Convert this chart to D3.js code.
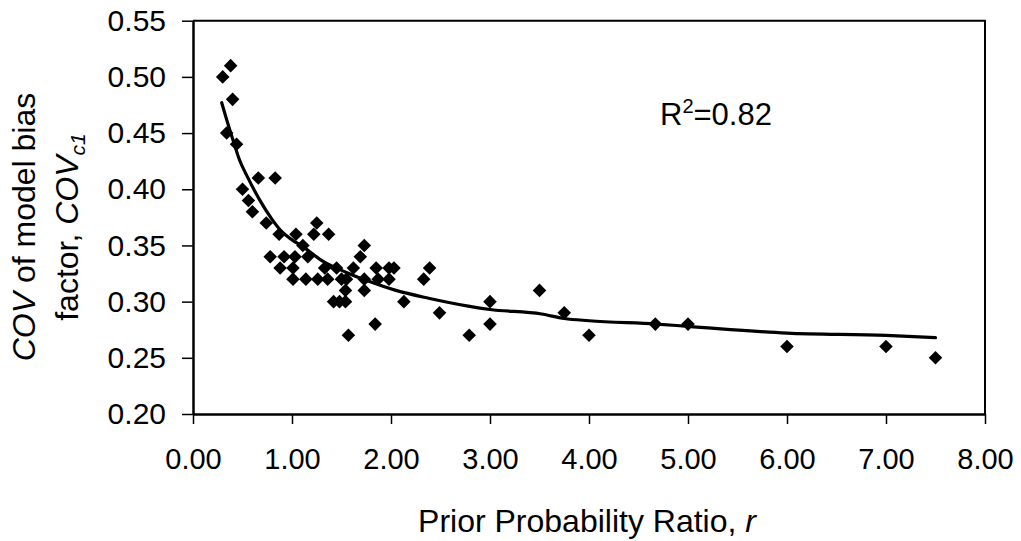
<!DOCTYPE html>
<html>
<head>
<meta charset="utf-8">
<script src="https://cdn.jsdelivr.net/npm/d3@7"></script>
<style>
  html, body { margin: 0; padding: 0; background: #fff; }
  svg { display: block; font-family: Arial, "Liberation Sans", sans-serif; }
  .tick text { fill: #000; }
</style>
</head>
<body>
<div id="container"></div>
<script>
// observed points: prior probability ratio r and COV of model bias
const ratioR = [
  0.30, 0.38, 0.40, 0.34, 0.44, 0.50, 0.56, 0.60, 0.66, 0.83,
  0.74, 0.87, 1.04, 1.11, 1.25, 1.22, 1.37, 0.78, 0.92, 1.03,
  1.16, 0.88, 1.01, 1.33, 1.45, 1.01, 1.14, 1.26, 1.36, 1.50,
  1.55, 1.54, 1.73, 1.69, 1.62, 1.73, 1.73, 1.85, 1.98, 2.03,
  1.87, 1.98, 2.39, 2.33, 2.13, 2.49, 1.42, 1.48, 1.54, 1.84,
  1.57, 2.79, 3.00, 3.00, 3.50, 3.75, 4.00, 4.67, 5.00, 6.00,
  7.00, 7.50
];
const covValues = [
  0.50, 0.51, 0.48, 0.45, 0.44, 0.40, 0.39, 0.38, 0.41, 0.41,
  0.37, 0.36, 0.36, 0.35, 0.37, 0.36, 0.36, 0.34, 0.34, 0.34,
  0.34, 0.33, 0.33, 0.33, 0.33, 0.32, 0.32, 0.32, 0.32, 0.32,
  0.32, 0.31, 0.35, 0.34, 0.33, 0.32, 0.31, 0.33, 0.33, 0.33,
  0.32, 0.32, 0.33, 0.32, 0.30, 0.29, 0.30, 0.30, 0.30, 0.28,
  0.27, 0.27, 0.30, 0.28, 0.31, 0.29, 0.27, 0.28, 0.28, 0.26,
  0.26, 0.25
];

// fitted curve
const fitR   = [0.29, 0.34, 0.40, 0.47, 0.55, 0.67, 0.80, 0.90, 1.00, 1.11, 1.31, 1.55, 1.75, 2.05, 2.38, 2.78, 3.00, 3.52, 3.75, 4.00, 4.68, 5.00, 6.00, 7.00, 7.50];
const fitCov = [0.477, 0.462, 0.445, 0.426, 0.411, 0.391, 0.373, 0.362, 0.355, 0.349, 0.336, 0.326, 0.319, 0.310, 0.303, 0.296, 0.293, 0.289, 0.285, 0.283, 0.280, 0.278, 0.272, 0.270, 0.268];

const xTicks = [0, 1, 2, 3, 4, 5, 6, 7, 8];
const yTicks = [0.20, 0.25, 0.30, 0.35, 0.40, 0.45, 0.50, 0.55];
const rSquared = '0.82';

const width = 1021;
const height = 541;
const plotLeft = 193, plotRight = 985, plotTop = 20.7, plotBottom = 414;

const svg = d3.select('#container').append('svg')
  .attr('width', width)
  .attr('height', height);

const x = d3.scaleLinear().domain([0, 8]).range([plotLeft, plotRight]);
const y = d3.scaleLinear().domain([0.2, 0.55]).range([plotBottom, plotTop]);

// --- Frame (top and right) ---
svg.append('path')
  .attr('d', `M${plotLeft},${plotTop}H${plotRight}V${plotBottom}`)
  .attr('fill', 'none')
  .attr('stroke', '#000')
  .attr('stroke-width', 2);

// --- Axes ---
const xAxis = svg.append('g')
  .attr('transform', `translate(0,${plotBottom})`)
  .call(d3.axisBottom(x).tickValues(xTicks).tickFormat(d3.format('.2f'))
    .tickSizeInner(10).tickSizeOuter(0).tickPadding(24));
xAxis.select('.domain').attr('stroke-width', 2.5);
xAxis.selectAll('.tick line').attr('stroke-width', 1.5);
xAxis.selectAll('.tick text').attr('font-size', 29).attr('font-family', 'Arial, "Liberation Sans", sans-serif');

const yAxis = svg.append('g')
  .attr('transform', `translate(${plotLeft},0)`)
  .call(d3.axisLeft(y).tickValues(yTicks).tickFormat(d3.format('.2f'))
    .tickSizeInner(11).tickSizeOuter(0).tickPadding(16));
yAxis.select('.domain').attr('stroke-width', 2.5);
yAxis.selectAll('.tick line').attr('stroke-width', 1.5);
yAxis.selectAll('.tick text').attr('font-size', 30).attr('font-family', 'Arial, "Liberation Sans", sans-serif');

// --- Points (diamonds) ---
const diamond = d3.symbol().type(d3.symbolSquare).size(92);
svg.append('g')
  .selectAll('path')
  .data(ratioR.map((r, i) => ({ r, v: covValues[i] })))
  .join('path')
  .attr('d', diamond)
  .attr('transform', (d) => `translate(${x(d.r)},${y(d.v)}) rotate(45)`)
  .attr('fill', '#000');

// --- Fitted curve ---
const line = d3.line()
  .x((d) => x(d[0]))
  .y((d) => y(d[1]))
  .curve(d3.curveMonotoneX);
svg.append('path')
  .datum(fitR.map((r, i) => [r, fitCov[i]]))
  .attr('d', line)
  .attr('fill', 'none')
  .attr('stroke', '#000')
  .attr('stroke-width', 3.2)
  .attr('stroke-linecap', 'round');

// --- R² label ---
const rText = svg.append('text')
  .attr('x', 660)
  .attr('y', 125)
  .attr('font-size', 31);
rText.append('tspan').text('R');
rText.append('tspan').attr('font-size', 20).attr('dy', -12).text('2');
rText.append('tspan').attr('dy', 12).text('=' + rSquared);

// --- Axis titles ---
const xTitle = svg.append('text')
  .attr('x', 587)
  .attr('y', 532)
  .attr('text-anchor', 'middle')
  .attr('font-size', 32);
xTitle.append('tspan').text('Prior Probability Ratio, ');
xTitle.append('tspan').attr('font-style', 'italic').text('r');

const yTitle = svg.append('g')
  .attr('transform', 'translate(0,227) rotate(-90)');
const line1 = yTitle.append('text')
  .attr('x', 0).attr('y', 35)
  .attr('text-anchor', 'middle')
  .attr('font-size', 32);
line1.append('tspan').attr('font-style', 'italic').text('COV');
line1.append('tspan').text(' of model bias');
const line2 = yTitle.append('text')
  .attr('x', 0).attr('y', 78)
  .attr('text-anchor', 'middle')
  .attr('font-size', 32);
line2.append('tspan').text('factor, ');
line2.append('tspan').attr('font-style', 'italic').text('COV');
line2.append('tspan').attr('font-style', 'italic').attr('font-size', 21).attr('dy', 7).text('c1');
</script>
</body>
</html>
